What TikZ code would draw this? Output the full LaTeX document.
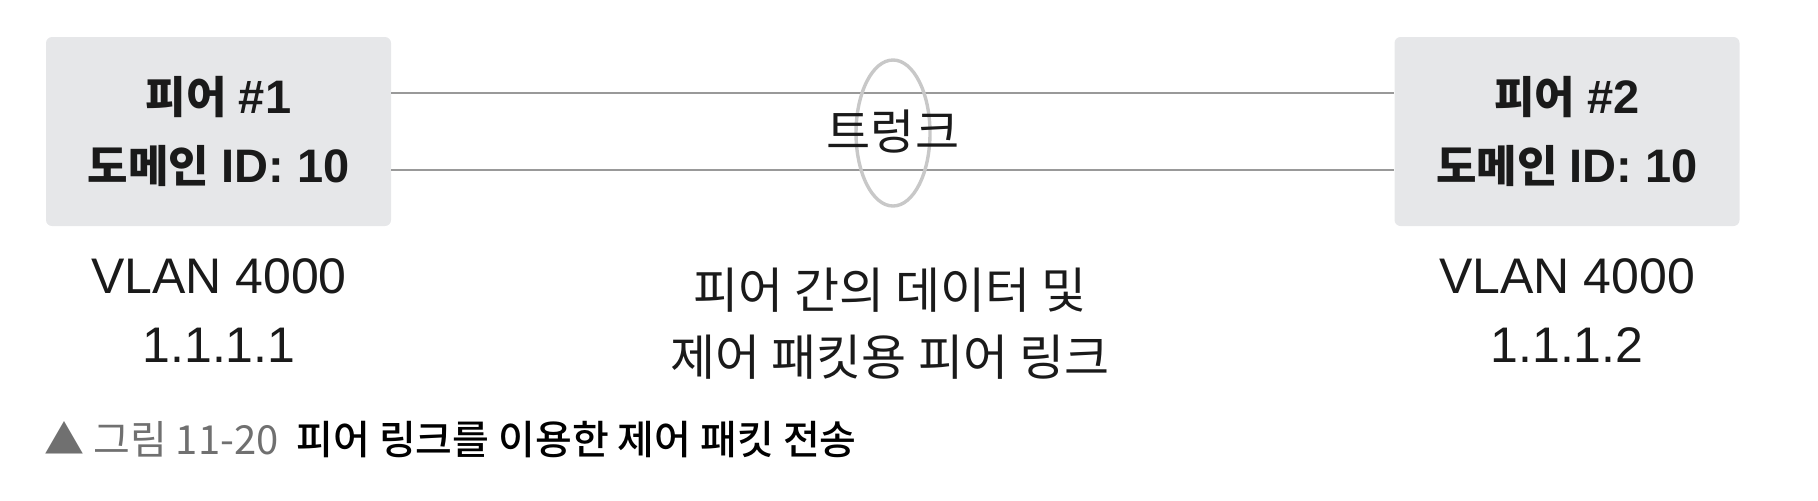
\documentclass[tikz,border=0pt]{standalone}
\usepackage{fontspec}
\setmainfont{Liberation Sans}
\newfontfamily\kr{Noto Sans CJK KR}
\newfontfamily\krb{Noto Sans CJK KR Bold}
\newfontfamily\krm{Noto Sans CJK KR Medium}
\usetikzlibrary{shapes.geometric}
\definecolor{boxgray}{HTML}{E6E7E9}
\definecolor{linegray}{HTML}{999999}
\definecolor{ringgray}{HTML}{C8C8C8}
\definecolor{capgray}{HTML}{707070}
\definecolor{txt}{HTML}{1A1A1A}
\newcommand{\lat}[1]{{\fontsize{23.5}{34.5}\selectfont #1}}
\tikzset{
  peer/.style={fill=boxgray, rounded corners=3pt, minimum width=172.5pt, minimum height=94.5pt,
    align=center, text=txt, font=\fontsize{22}{34.5}\selectfont\bfseries, inner sep=0pt},
  link/.style={draw=linegray, line width=1pt},
  ring/.style={draw=ringgray, line width=1.7pt, ellipse, minimum width=37pt, minimum height=73pt, inner sep=0pt},
  lbl/.style={align=center, text=txt, font=\fontsize{25}{34.5}\selectfont, inner sep=0pt},
  mid/.style={align=center, text=txt, font=\kr\fontsize{24.5}{33.5}\selectfont, inner sep=0pt},
}
\begin{document}
\begin{tikzpicture}[x=0.5pt,y=-0.5pt]
\useasboundingbox (0,0) rectangle (1818,500);
\node[peer] (p1) at (218.5,131.5) {{\krb 피어} \lat{\#1}\\{\krb 도메인} \lat{ID: 10}};
\node[peer] (p2) at (1567,131.5) {{\krb 피어} \lat{\#2}\\{\krb 도메인} \lat{ID: 10}};
\draw[link] ([yshift=19.25pt]p1.east) -- ([yshift=19.25pt]p2.west);
\draw[link] ([yshift=-19.25pt]p1.east) -- ([yshift=-19.25pt]p2.west);
\node[ring] (ring) at (893,133) {};
\node[mid, font=\kr\fontsize{24}{30}\selectfont] (trunk) at (893,131.5) {트렁크};
\node[lbl] (v1) at (219,310.5) {VLAN 4000\\1.1.1.1};
\node[lbl] (v2) at (1567,310.5) {VLAN 4000\\1.1.1.2};
\node[mid] (pl) at (890,323.5) {피어 간의 데이터 및\\제어 패킷용 피어 링크};
\node[anchor=west, inner sep=0pt, font=\kr\fontsize{20}{24}\selectfont] (cap) at (44,440)
  {\textcolor{capgray}{▲ 그림 11-20}\hspace{0.45em}{\krm\color{black}피어 링크를 이용한 제어 패킷 전송}};
\end{tikzpicture}
\end{document}
